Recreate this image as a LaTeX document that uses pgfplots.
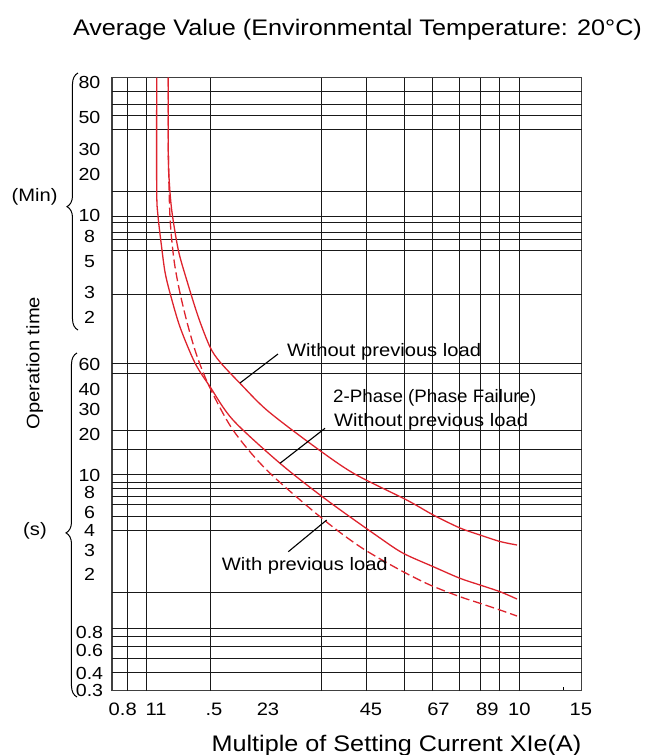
\documentclass[border=0pt]{standalone}
\usepackage{pgfplots}
\pgfplotsset{compat=1.18}
\usepackage{fontspec}
\setmainfont{Liberation Sans}[FakeStretch=1.12]
\usetikzlibrary{decorations.pathreplacing}
\definecolor{curve}{RGB}{222,35,45}
\definecolor{gridc}{RGB}{25,25,25}
\begin{document}
\begin{tikzpicture}
\begin{axis}[
  x=1pt, y=1pt, y dir=reverse,
  xmin=112, xmax=581.5, ymin=77.7, ymax=690.7,
  clip=false,
  axis line style={draw=black!75, line width=1.5pt},
  tick pos=left,
  xtick={122.7,156.2,214,268,371,438.5,487.3,519.4,580.8},
  xticklabels={0.8,11,.5,23,45,67,89,10,15},
  ytick={82.7,117.3,149.3,174.3,215,236,262,292.3,317.7,364,389.5,409.3,434,475.5,492.7,512,530.5,550.5,574.5,632.5,650,673.2,690.6},
  yticklabels={80,50,30,20,10,8,5,3,2,60,40,30,20,10,8,6,4,3,2,0.8,0.6,0.4,0.3},
  major tick length=0pt,
  minor xtick={563}, minor tick length=4pt, tick align=inside,
  minor tick style={black, line width=1pt},
  extra x ticks={128,147,210,321,366,404,432.5,459.5,480.5,499.5,519.5},
  extra y ticks={91,104.3,115,129.3,191.7,216,222.7,232.7,239,250.5,294,363.3,373.3,430.7,449,474.3,482.3,488.3,496.7,504.3,516,530,592,628.7,636.3,646.7,658.3,672.7},
  extra x tick labels={}, extra y tick labels={},
  extra tick style={grid=major, major tick length=0pt},
  grid style={draw=gridc, line width=1pt},
  xticklabel style={font=\fontsize{18}{20}\selectfont, anchor=center, yshift=-18.3pt},
  yticklabel style={font=\fontsize{17.5}{20}\selectfont, anchor=center, xshift=-22.5pt},
]
% Without previous load
\addplot[curve, line width=1.3pt, smooth] coordinates {
(168.3,77.7) (168.3,150) (169,177) (171.7,210) (178.3,250) (186.7,280) (198.3,317) (210,347) (220,362) (240,383.3) (266.7,410) (310,443.3) (353,473) (406.7,500) (433.3,515) (460,528) (480,535) (500,541.5) (517,545)};
% 2-Phase without previous load
\addplot[curve, line width=1.3pt, smooth] coordinates {
(156.7,77.7) (156.7,190) (158,216) (161.5,246) (165,272) (170,293) (180,327) (195,363) (210,386.7) (233,420) (280,463.3) (326.7,500) (380,538) (403.3,553.3) (433.3,566.7) (460,578.3) (480,585) (500,591.7) (517,599)};
% With previous load (dashed)
\addplot[curve, line width=1.3pt, smooth, dash pattern=on 9pt off 4pt] coordinates {
(168.3,77.7) (168.3,150) (170,217) (174,260) (180,293) (188.3,327) (197.3,357) (210,388) (233,430) (266.7,470) (320,516.7) (360,546.7) (400,570) (430,585) (460,596.7) (480,603.3) (500,610) (517,616)};
% leader lines
\addplot[black, line width=1.1pt] coordinates {(240,383) (278,354)};
\addplot[black, line width=1.1pt] coordinates {(280,463.3) (325,428.3)};
\addplot[black, line width=1.1pt] coordinates {(288.3,551.7) (326.7,520)};
% labels
\node[font=\fontsize{18}{20}\selectfont, anchor=base west, inner sep=0pt] at (axis cs:287,356) {Without previous load};
\node[font=\fontsize{18}{20}\selectfont, anchor=base west, inner sep=0pt, xscale=0.93] at (axis cs:333,402.7) {2-Phase (Phase Failure)};
\node[font=\fontsize{18}{20}\selectfont, anchor=base west, inner sep=0pt] at (axis cs:334,426.7) {Without previous load};
\node[font=\fontsize{18}{20}\selectfont, anchor=base west, inner sep=0pt] at (axis cs:221.7,570) {With previous load};
% braces
\draw[decorate, decoration={brace, amplitude=11pt, aspect=0.48}, line width=1pt] (axis cs:78,330) -- (axis cs:78,73);
\draw[decorate, decoration={brace, amplitude=11pt, aspect=0.477}, line width=1pt] (axis cs:77,697) -- (axis cs:77,353);
\node[font=\fontsize{18}{20}\selectfont, anchor=center, inner sep=0pt] at (axis cs:34.7,197) {(Min)};
\node[font=\fontsize{18}{20}\selectfont, anchor=center, inner sep=0pt] at (axis cs:35,531) {(s)};
\node[font=\fontsize{18}{20}\selectfont, anchor=base, rotate=90, inner sep=0pt] at (axis cs:39.3,363) {Operation time};
% titles
\node[font=\fontsize{22.5}{26}\selectfont, anchor=base, inner sep=0pt] at (axis cs:357.5,35) {Average Value (Environmental Temperature: 20°C)};
\node[font=\fontsize{22.5}{26}\selectfont, anchor=base, inner sep=0pt] at (axis cs:396.5,751) {Multiple of Setting Current XIe(A)};
\coordinate (bbA) at (axis cs:0,755);
\coordinate (bbB) at (axis cs:647,0);
\end{axis}
\pgfresetboundingbox
\useasboundingbox (bbA) rectangle (bbB);
\end{tikzpicture}
\end{document}
